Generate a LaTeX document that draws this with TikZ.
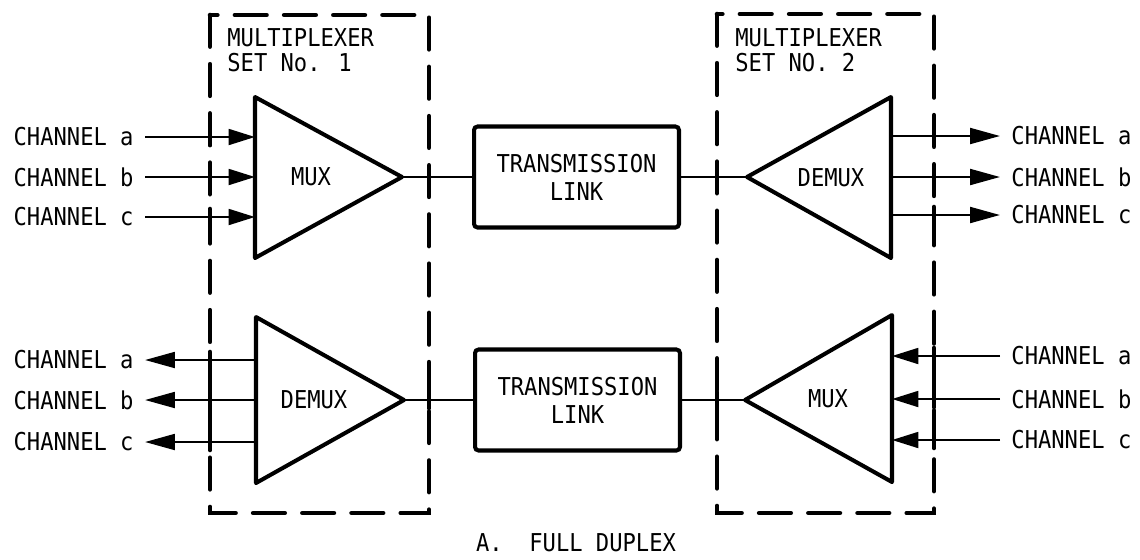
\documentclass[tikz,border=0pt]{standalone}
\usepackage{fontspec}
\setmainfont{DejaVu Sans Mono}[FakeStretch=0.9]
\usetikzlibrary{arrows.meta}

\begin{document}
\begin{tikzpicture}[x=0.02cm,y=-0.02cm,
    font=\fontsize{14}{14.5}\selectfont,
    setbox/.style={line width=2.6pt,line cap=round,dash pattern=on 18pt off 10pt},
    tri/.style={line width=2.3pt,line join=round},
    wire/.style={line width=1.4pt},
    arrin/.style={wire,-{Triangle[length=15pt,width=9pt]}},
    arrout/.style={wire,-{Triangle[length=17pt,width=9pt]}},
    lbl/.style={inner sep=0pt,outer sep=6.5pt},
    linkbox/.style={draw,line width=2.3pt,rounded corners=2pt,minimum width=4.1cm,
                    minimum height=2.02cm,align=center,inner sep=0pt,
                    font=\fontsize{14}{16}\selectfont}]
    \useasboundingbox (0,0) rectangle (1140,559);

    % multiplexer sets
    \draw[setbox] (210,15) rectangle (429,513);
    \draw[setbox] (717,14) rectangle (934,513);
    \node[anchor=north west,align=left,inner sep=0pt] (set1) at (227,28) {MULTIPLEXER\\SET No. 1};
    \node[anchor=north west,align=left,inner sep=0pt] (set2) at (735,28) {MULTIPLEXER\\SET NO. 2};

    % triangles
    \coordinate (M1t) at (255,97);  \coordinate (M1b) at (255,258); \coordinate (M1o) at (402,177);
    \coordinate (D2t) at (891,97);  \coordinate (D2b) at (891,258); \coordinate (D2i) at (747,177);
    \coordinate (D1t) at (256,317); \coordinate (D1b) at (256,483); \coordinate (D1i) at (404,400);
    \coordinate (M2t) at (892,315); \coordinate (M2b) at (892,482); \coordinate (M2o) at (745,400);
    \draw[tri] (M1t) -- (M1o) -- (M1b) -- cycle;
    \draw[tri] (D2t) -- (D2i) -- (D2b) -- cycle;
    \draw[tri] (D1t) -- (D1i) -- (D1b) -- cycle;
    \draw[tri] (M2t) -- (M2o) -- (M2b) -- cycle;
    \node (mux1)   at (311,177) {MUX};
    \node (demux2) at (831,178) {DEMUX};
    \node (demux1) at (314,400) {DEMUX};
    \node (mux2)   at (828,399) {MUX};

    % transmission links
    \node[linkbox] (link1) at (576.5,177) {TRANSMISSION\\LINK};
    \node[linkbox] (link2) at (577.5,400) {TRANSMISSION\\LINK};
    \draw[wire] (M1o) -- (link1.west);
    \draw[wire] (link1.east) -- (D2i);
    \draw[wire] (D1i) -- (link2.west);
    \draw[wire] (link2.east) -- (M2o);

    % set no. 1, mux inputs
    \coordinate (m1a) at (255,137); \coordinate (m1b) at (255,177); \coordinate (m1c) at (255,217);
    \node[lbl,anchor=east] (ia1) at (145,137) {CHANNEL a};
    \node[lbl,anchor=east] (ib1) at (145,177) {CHANNEL b};
    \node[lbl,anchor=east] (ic1) at (145,217) {CHANNEL c};
    \draw[arrin] (ia1.east) -- (m1a);
    \draw[arrin] (ib1.east) -- (m1b);
    \draw[arrin] (ic1.east) -- (m1c);

    % set no. 1, demux outputs
    \coordinate (d1a) at (256,360); \coordinate (d1b) at (256,400); \coordinate (d1c) at (256,442);
    \node[lbl,anchor=east] (oa1) at (145,360) {CHANNEL a};
    \node[lbl,anchor=east] (ob1) at (145,400) {CHANNEL b};
    \node[lbl,anchor=east] (oc1) at (145,442) {CHANNEL c};
    \draw[arrout] (d1a) -- (oa1.east);
    \draw[arrout] (d1b) -- (ob1.east);
    \draw[arrout] (d1c) -- (oc1.east);

    % set no. 2, demux outputs
    \coordinate (d2a) at (891,136); \coordinate (d2b) at (891,177); \coordinate (d2c) at (891,215);
    \node[lbl,anchor=west] (oa2) at (1000,136) {CHANNEL a};
    \node[lbl,anchor=west] (ob2) at (1000,177) {CHANNEL b};
    \node[lbl,anchor=west] (oc2) at (1000,215) {CHANNEL c};
    \draw[arrout] (d2a) -- (oa2.west);
    \draw[arrout] (d2b) -- (ob2.west);
    \draw[arrout] (d2c) -- (oc2.west);

    % set no. 2, mux inputs
    \coordinate (m2a) at (892,356); \coordinate (m2b) at (892,399); \coordinate (m2c) at (892,440);
    \node[lbl,anchor=west] (ia2) at (1000,356) {CHANNEL a};
    \node[lbl,anchor=west] (ib2) at (1000,399) {CHANNEL b};
    \node[lbl,anchor=west] (ic2) at (1000,440) {CHANNEL c};
    \draw[arrin] (ia2.west) -- (m2a);
    \draw[arrin] (ib2.west) -- (m2b);
    \draw[arrin] (ic2.west) -- (m2c);

    % ticks where the wires cross the set borders
    \foreach \x/\y in {210/137,210/177,210/217,210/360,210/400,210/442,429/177,429/400,
                       717/177,717/400,934/136,934/177,934/215,934/356,934/399,934/440}
        \draw[line width=2.6pt,line cap=round] (\x,\y-8) -- (\x,\y+8);

    \node (cap) at (576,543) {A.~~FULL DUPLEX};
\end{tikzpicture}
\end{document}
